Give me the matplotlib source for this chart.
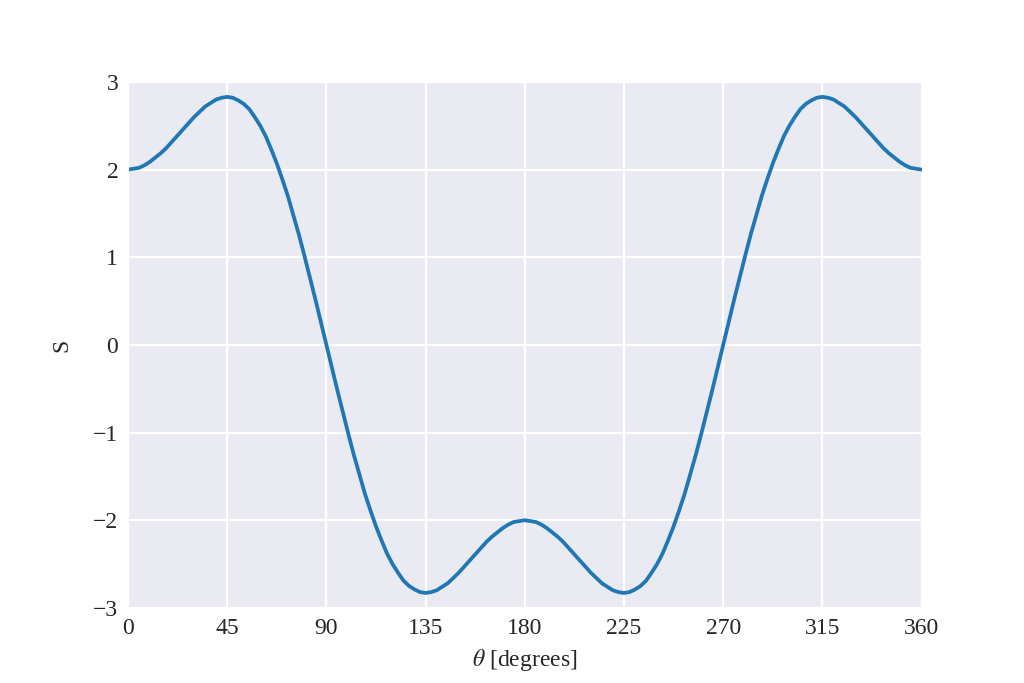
import matplotlib
matplotlib.use("Agg")
import matplotlib.pyplot as plt
import seaborn as sns

# S values, every 2.5 degrees from 0 to 180
theta_deg = [i * 2.5 for i in range(145)]
s_first = [2.00, 2.01, 2.02, 2.05, 2.09, 2.14, 2.19, 2.25, 2.32, 2.39,
           2.46, 2.53, 2.60, 2.66, 2.72, 2.76, 2.80, 2.82, 2.83, 2.82,
           2.79, 2.75, 2.69, 2.60, 2.50, 2.38, 2.23, 2.07, 1.89, 1.70,
           1.48, 1.26, 1.02, 0.77, 0.52, 0.26, 0.00,
           -0.26, -0.52, -0.77, -1.02, -1.26, -1.48, -1.70, -1.89, -2.07,
           -2.23, -2.38, -2.50, -2.60, -2.69, -2.75, -2.79, -2.82, -2.83,
           -2.82, -2.80, -2.76, -2.72, -2.66, -2.60, -2.53, -2.46, -2.39,
           -2.32, -2.25, -2.19, -2.14, -2.09, -2.05, -2.02, -2.01, -2.00]
# curve is symmetric about 180 degrees
s_values = s_first + s_first[-2::-1]

x_ticks = [0, 45, 90, 135, 180, 225, 270, 315, 360]
y_ticks = [-3, -2, -1, 0, 1, 2, 3]

sns.set_style("darkgrid")
plt.rcParams['font.family'] = ['Liberation Serif', 'DejaVu Serif']
plt.rcParams['mathtext.fontset'] = 'stix'
plt.rcParams['axes.unicode_minus'] = True

fig, ax = plt.subplots(figsize=(10.24, 6.83), dpi=100)
ax.plot(theta_deg, s_values, color='#1f77b4', linewidth=2.7)

ax.set_xlim(0, 360)
ax.set_ylim(-3, 3)
ax.set_xticks(x_ticks)
ax.set_yticks(y_ticks)
ax.grid(color='white', linewidth=1.6)
ax.tick_params(labelsize=17, colors='#262626')
ax.set_xlabel(r'$\theta$ [degrees]', fontsize=17, color='#262626', labelpad=6)
ax.set_ylabel('S', fontsize=17, color='#262626', labelpad=15)

fig.savefig('out.png', dpi=100)
